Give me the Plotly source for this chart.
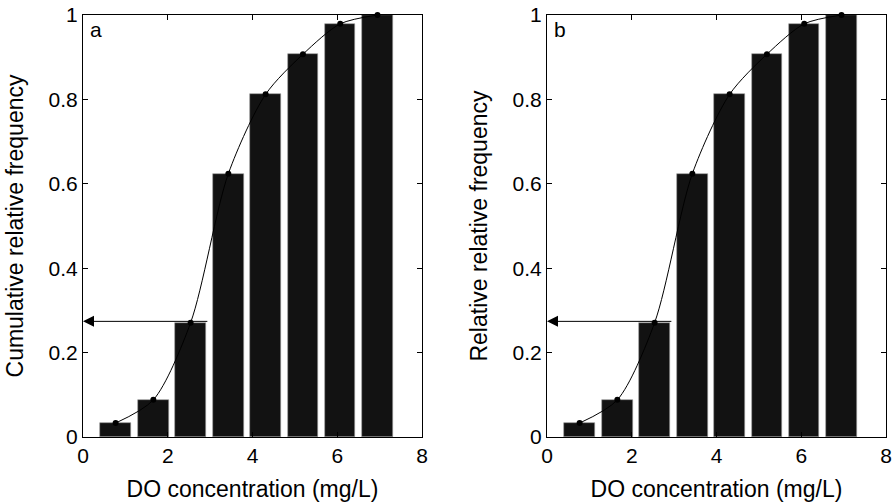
import plotly.graph_objects as go

bin_centers = [0.77, 1.66, 2.54, 3.43, 4.31, 5.19, 6.07, 6.95]
cum_freq = [0.033, 0.088, 0.271, 0.624, 0.812, 0.907, 0.979, 1.0]
arrow_level = 0.274
arrow_start_x = 2.97
panel_labels = ["a", "b"]
y_titles = ["Cumulative relative frequency", "Relative relative frequency"]
x_title = "DO concentration (mg/L)"
x_ticks = [0, 2, 4, 6, 8]
y_ticks = [0, 0.2, 0.4, 0.6, 0.8, 1]
y_ticktext = ["0", "0.2", "0.4", "0.6", "0.8", "1"]

FONT = "Liberation Sans, Arial, Helvetica, sans-serif"
TICK_SIZE = 21
TITLE_SIZE = 23

fig = go.Figure()
domains = [[83/894, 422/894], [547/894, 886/894]]
ydom = [67/504, 489/504]

for i in range(2):
    xa = "x" if i == 0 else "x2"
    ya = "y" if i == 0 else "y2"
    fig.add_trace(go.Bar(x=bin_centers, y=cum_freq, width=0.72,
                         marker=dict(color="#121212", line=dict(color="#9a9a9a", width=0.6)),
                         xaxis=xa, yaxis=ya, showlegend=False))
    fig.add_trace(go.Scatter(x=bin_centers, y=cum_freq, mode="lines+markers",
                             line=dict(color="black", width=1, shape="spline", smoothing=0.8),
                             marker=dict(color="black", size=6),
                             xaxis=xa, yaxis=ya, showlegend=False, cliponaxis=False))
    fig.add_annotation(x=0, y=arrow_level, ax=arrow_start_x, ay=arrow_level,
                       xref=xa, yref=ya, axref=xa, ayref=ya,
                       showarrow=True, arrowhead=2, arrowsize=2.2, arrowwidth=1,
                       arrowcolor="black", standoff=0, text="")
    fig.add_annotation(x=0.015, y=0.998, xref=xa + " domain", yref=ya + " domain",
                       text=panel_labels[i],
                       showarrow=False, xanchor="left", yanchor="top",
                       font=dict(size=21, color="black", family=FONT))

axis_common = dict(showline=True, linecolor="black", linewidth=1, mirror="ticks",
                   ticks="inside", ticklen=5, tickcolor="black", showgrid=False,
                   zeroline=False, automargin=False,
                   tickfont=dict(size=TICK_SIZE, color="black", family=FONT))
title_font = dict(size=TITLE_SIZE, color="black", family=FONT)

fig.update_layout(
    width=894, height=504,
    margin=dict(l=0, r=0, t=0, b=0),
    plot_bgcolor="white", paper_bgcolor="white",
    bargap=0,
    xaxis=dict(domain=domains[0], range=[0, 8], tickvals=x_ticks, anchor="y",
               title=dict(text=x_title, font=title_font, standoff=14), **axis_common),
    yaxis=dict(domain=ydom, range=[0, 1], tickvals=y_ticks, ticktext=y_ticktext, anchor="x",
               title=dict(text=y_titles[0], font=title_font, standoff=18), **axis_common),
    xaxis2=dict(domain=domains[1], range=[0, 8], tickvals=x_ticks, anchor="y2",
                title=dict(text=x_title, font=title_font, standoff=14), **axis_common),
    yaxis2=dict(domain=ydom, range=[0, 1], tickvals=y_ticks, ticktext=y_ticktext, anchor="x2",
                title=dict(text=y_titles[1], font=title_font, standoff=18), **axis_common),
)

fig.write_html("out.html")
